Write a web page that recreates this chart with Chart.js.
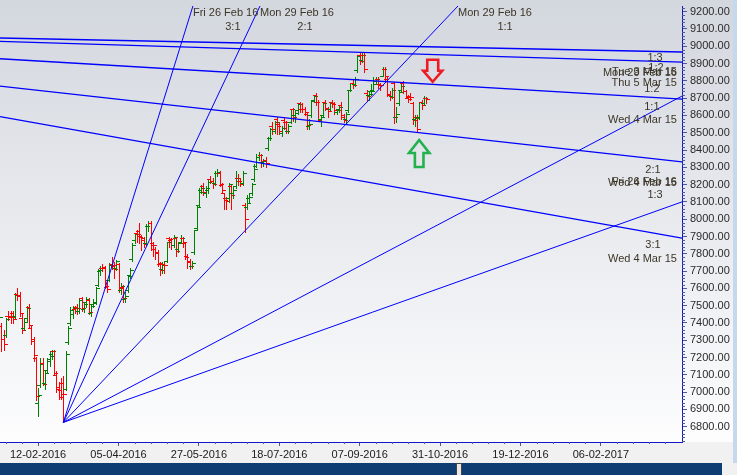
<!DOCTYPE html>
<html>
<head>
<meta charset="utf-8">
<script src="https://cdn.jsdelivr.net/npm/chart.js@4.4.1/dist/chart.umd.min.js"></script>
<style>
  html, body { margin: 0; padding: 0; background: #fff; }
</style>
</head>
<body>
<canvas id="chart" width="737" height="475"></canvas>
<script>
// Nifty daily bars, first bar is 19-01-2016, bar index 0 = 12-02-2016
const firstBar = -17;
const barOpen = [
  7400,7380,7310,7330,7440,7440,7460,7440,7570,7560,7430,7370,7430,7490,7370,7310,7200,
  6940,7040,7170,7050,7130,7180,7220,7240,7100,7030,7010,7050,
  7020,7290,7400,7450,7480,7495,7470,7545,7480,7520,7535,7460,7510,7520,7620,7700,7720,
  7725,7610,7650,7740,7730,7720,7740,7590,7610,7540,7590,7680,7770,7880,7920,7930,7905,
  7890,7860,7960,7980,7860,7830,7810,7740,7710,7740,7760,7890,7880,7850,7890,7830,7870,
  7890,7860,7790,7760,7730,7810,7950,8080,8170,8190,8150,8170,8230,8220,8210,8270,8270,
  8200,8150,8120,8120,8190,8150,8190,8240,8220,8210,8080,8070,8120,8150,8230,8310,8360,
  8370,8330,8340,8410,8470,8540,8510,8580,8550,8500,8575,8560,8510,8560,8640,8600,8630,
  8670,8640,8640,8610,8540,8600,8690,8720,8680,8580,8600,8680,8640,8640,8680,8670,8620,
  8640,8660,8600,8580,8630,8750,8790,8780,8860,8950,8920,8950,8730,8720,8740,8750,8800,
  8810,8780,8830,8870,8810,8720,8710,8790,8590,8670,8750,8790,8740,8700,8710,8670,8580,
  8590,8590,8680,8670,8700
];
const barHigh = [
  7460,7400,7360,7430,7470,7470,7470,7575,7600,7580,7450,7430,7500,7510,7380,7320,7205,
  7025,7195,7200,7130,7200,7240,7245,7245,7120,7060,7080,7095,
  7235,7380,7490,7500,7500,7510,7540,7550,7520,7550,7545,7510,7540,7610,7710,7730,7740,
  7730,7640,7745,7780,7750,7765,7745,7630,7620,7580,7680,7720,7860,7920,7940,7980,7910,
  7900,7970,7990,7990,7870,7840,7820,7750,7750,7750,7870,7900,7890,7910,7900,7870,7910,
  7900,7870,7800,7770,7760,7940,8080,8180,8200,8210,8190,8230,8250,8240,8280,8290,8280,
  8210,8150,8130,8210,8200,8190,8280,8260,8240,8280,8095,8140,8150,8210,8320,8380,8390,
  8380,8350,8360,8475,8530,8560,8570,8590,8560,8540,8590,8570,8550,8640,8645,8625,8670,
  8675,8670,8650,8615,8580,8690,8720,8730,8690,8600,8680,8690,8650,8680,8690,8680,8640,
  8660,8680,8610,8620,8750,8790,8810,8825,8950,8960,8968,8960,8750,8740,8780,8825,8820,
  8820,8790,8880,8880,8820,8740,8760,8795,8650,8750,8790,8800,8750,8720,8730,8680,8600,
  8600,8680,8690,8710,8705
];
const barLow = [
  7360,7240,7245,7320,7420,7400,7400,7430,7530,7440,7340,7360,7410,7370,7280,7180,6955,
  6860,7030,7040,7020,7110,7150,7190,7100,7000,6960,6960,6825,
  7010,7280,7390,7430,7455,7450,7460,7470,7465,7495,7450,7440,7490,7510,7615,7680,7700,
  7600,7580,7640,7710,7660,7705,7580,7570,7520,7520,7580,7660,7760,7860,7870,7860,7820,
  7840,7850,7930,7820,7790,7770,7730,7680,7690,7690,7750,7840,7830,7840,7790,7810,7860,
  7840,7770,7720,7710,7720,7800,7940,8070,8150,8140,8130,8150,8210,8180,8200,8250,8190,
  8160,8060,8060,8100,8060,8120,8180,8200,8190,8200,7927,8060,8100,8140,8220,8300,8340,
  8300,8310,8300,8400,8460,8490,8500,8490,8490,8480,8520,8500,8500,8555,8570,8560,8610,
  8620,8620,8600,8520,8520,8590,8680,8660,8570,8540,8590,8630,8590,8630,8650,8610,8610,
  8620,8580,8560,8550,8620,8740,8760,8770,8850,8900,8910,8850,8690,8690,8720,8740,8780,
  8760,8750,8830,8800,8710,8690,8700,8555,8560,8660,8740,8730,8700,8680,8690,8550,8540,
  8506,8580,8640,8660,8670
];
const barClose = [
  7435,7309,7277,7422,7436,7437,7425,7564,7556,7455,7362,7405,7489,7388,7298,7216,6976,
  6981,7163,7049,7109,7192,7211,7235,7110,7018,6971,6987,6987,
  7222,7368,7475,7485,7470,7485,7531,7487,7511,7538,7461,7498,7513,7604,7704,7715,7716,
  7615,7598,7735,7738,7713,7758,7603,7615,7546,7555,7671,7709,7850,7914,7912,7899,7880,
  7855,7962,7979,7848,7850,7806,7747,7706,7736,7733,7866,7887,7848,7900,7815,7860,7890,
  7871,7783,7750,7731,7748,7935,8069,8157,8178,8160,8180,8218,8220,8201,8266,8273,8203,
  8170,8110,8108,8206,8141,8170,8238,8219,8203,8270,8000,8094,8127,8204,8288,8328,8371,
  8335,8337,8323,8467,8521,8519,8565,8541,8508,8528,8565,8510,8541,8635,8590,8615,8666,
  8638,8636,8622,8544,8551,8683,8711,8678,8575,8592,8672,8642,8624,8673,8667,8629,8632,
  8650,8592,8573,8607,8745,8786,8775,8809,8943,8917,8952,8866,8715,8726,8742,8780,8808,
  8775,8777,8867,8831,8723,8706,8745,8591,8611,8738,8769,8743,8709,8697,8708,8573,8583,
  8520,8677,8659,8699,8693
];

// date labels on the time axis, one every 35 bars
const xTickLabels = ['12-02-2016','05-04-2016','27-05-2016','18-07-2016','07-09-2016','31-10-2016','19-12-2016','06-02-2017'];
const xTickStep = 35;
const yTickValues = [6800,6900,7000,7100,7200,7300,7400,7500,7600,7700,7800,7900,8000,8100,8200,8300,8400,8500,8600,8700,8800,8900,9000,9100,9200];

// gann fan up from the 29-02-2016 low
const upFanOriginX = 11;
const upFanOriginY = 6825;
const upFanEndX = [67.4, 96.6, 182.8, 280.3, 280.3];
const upFanEndY = [9233, 9233, 9233, 8712, 8100];
// gann fans down from the march 2015 tops
const downFanStartY = [9048, 9028, 8928, 8770, 8593];
const downFanEndY = [8967, 8909, 8695, 8331, 7891];

// text notes next to the fan lines (bar index, price)
const noteText = ['Fri 26 Feb 16','3:1','Mon 29 Feb 16','2:1','Mon 29 Feb 16','1:1',
  '1:3','1:2','Tue 3 Mar 15','Mon 29 Feb 16','Thu 5 Mar 15','1:2','1:1','Wed 4 Mar 15',
  '2:1','Fri 26 Feb 16','Wed 4 Mar 15','1:3','3:1','Wed 4 Mar 15'];
const noteX = [67.4, 84.8, 96.6, 116.2, 182.8, 203.3,
  268.6, 269.0, 278.1, 278.1, 278.1, 267.2, 267.2, 278.1,
  267.7, 278.1, 278.1, 268.6, 267.7, 278.1];
const noteY = [9191, 9113, 9191, 9113, 9191, 9113,
  8930, 8873, 8853, 8844, 8786, 8751, 8651, 8574,
  8285, 8217, 8208, 8140, 7851, 7768];
const noteAlign = ['left','center','left','center','left','center',
  'center','center','right','right','right','center','center','right',
  'center','right','right','center','center','right'];

const xMin = -16.59, xMax = 280.32;
const yMin = 6711.6, yMax = 9233;

const upColor = '#008000';
const downColor = '#ff0000';
const fanColor = '#0000ff';
const noteColor = '#3c3628';

Chart.defaults.font.family = '"Liberation Sans", Arial, sans-serif';
Chart.defaults.font.size = 11;

const datasets = [];
upFanEndX.forEach((ex, i) => {
  datasets.push({
    data: [{ x: upFanOriginX, y: upFanOriginY }, { x: ex, y: upFanEndY[i] }],
    showLine: true, borderColor: fanColor, borderWidth: 1, pointRadius: 0
  });
});
downFanStartY.forEach((sy, i) => {
  datasets.push({
    data: [{ x: xMin, y: sy }, { x: xMax, y: downFanEndY[i] }],
    showLine: true, borderColor: fanColor, borderWidth: 1.3, pointRadius: 0
  });
});

// window background, scroll bar strips
const backdrop = {
  id: 'backdrop',
  beforeDraw(chart) {
    const { ctx, width, height, chartArea: a } = chart;
    ctx.save();
    const g = ctx.createLinearGradient(0, 0, 0, a.bottom);
    g.addColorStop(0, '#d3d7de');
    g.addColorStop(1, '#fdfdfe');
    ctx.fillStyle = g;
    ctx.fillRect(0, 0, width, a.bottom);
    ctx.fillStyle = '#f1f1f1';
    ctx.fillRect(0, a.bottom, width, height - a.bottom);
    ctx.fillStyle = '#c4d8ee';
    ctx.fillRect(733, 0, width - 733, 463);
    ctx.fillStyle = '#0d3d72';
    ctx.fillRect(0, 463, 722, height - 463);
    ctx.fillStyle = '#e8e8e8';
    ctx.fillRect(456, 463, 6, height - 463);
    ctx.strokeStyle = '#444';
    ctx.strokeRect(456.5, 463.5, 5, height - 463);
    ctx.restore();
  }
};

// open-high-low-close bars
const ohlc = {
  id: 'ohlc',
  beforeDatasetsDraw(chart) {
    const { ctx, chartArea: a, scales: { x, y } } = chart;
    ctx.save();
    ctx.beginPath();
    ctx.rect(a.left, a.top, a.right - a.left, a.bottom - a.top);
    ctx.clip();
    barClose.forEach((c, i) => {
      const o = barOpen[i];
      const px = Math.round(x.getPixelForValue(firstBar + i));
      const yh = Math.round(y.getPixelForValue(barHigh[i]));
      const yl = Math.round(y.getPixelForValue(barLow[i]));
      const yo = Math.round(y.getPixelForValue(o));
      const yc = Math.round(y.getPixelForValue(c));
      ctx.fillStyle = c >= o ? upColor : downColor;
      ctx.fillRect(px, yh, 1, yl - yh + 1);
      ctx.fillRect(px - 3, yo, 3, 1);
      ctx.fillRect(px + 1, yc, 3, 1);
    });
    ctx.restore();
  }
};

// fan labels, arrows and minor axis ticks
const notes = {
  id: 'notes',
  afterDatasetsDraw(chart) {
    const { ctx, chartArea: a, scales: { x, y } } = chart;
    ctx.save();
    ctx.font = '11px "Liberation Sans", Arial, sans-serif';
    ctx.fillStyle = noteColor;
    ctx.textBaseline = 'middle';
    noteText.forEach((t, i) => {
      ctx.textAlign = noteAlign[i];
      ctx.fillText(t, x.getPixelForValue(noteX[i]), y.getPixelForValue(noteY[i]));
    });

    drawArrow(ctx, x.getPixelForValue(171.8), y.getPixelForValue(8795), 1, 5.5, 9.5, 11, 22, '#ed1c24');
    drawArrow(ctx, x.getPixelForValue(165.9), y.getPixelForValue(8458), -1, 4.3, 10.2, 13, 27, '#22b14c');

    // minor ticks
    ctx.strokeStyle = '#4a5a9a';
    ctx.lineWidth = 1;
    ctx.beginPath();
    for (let v = 6720; v <= yMax; v += 20) {
      if (v % 100 === 0) continue;
      const py = Math.round(y.getPixelForValue(v)) + 0.5;
      ctx.moveTo(a.right, py);
      ctx.lineTo(a.right + 3, py);
    }
    for (let v = -14; v <= xMax; v += 7) {
      if (v % xTickStep === 0) continue;
      const px = Math.round(x.getPixelForValue(v)) + 0.5;
      ctx.moveTo(px, a.bottom);
      ctx.lineTo(px, a.bottom + 2);
    }
    ctx.stroke();
    ctx.restore();
  }
};

// hollow block arrow, dir 1 points down, -1 points up
function drawArrow(ctx, tx, ty, dir, shaftHalf, headHalf, headLen, totalLen, color) {
  ctx.save();
  ctx.strokeStyle = color;
  ctx.lineWidth = 2.6;
  ctx.lineJoin = 'miter';
  ctx.beginPath();
  ctx.moveTo(tx, ty);
  ctx.lineTo(tx + headHalf, ty - dir * headLen);
  ctx.lineTo(tx + shaftHalf, ty - dir * headLen);
  ctx.lineTo(tx + shaftHalf, ty - dir * totalLen);
  ctx.lineTo(tx - shaftHalf, ty - dir * totalLen);
  ctx.lineTo(tx - shaftHalf, ty - dir * headLen);
  ctx.lineTo(tx - headHalf, ty - dir * headLen);
  ctx.closePath();
  ctx.stroke();
  ctx.restore();
}

new Chart(document.getElementById('chart'), {
  type: 'scatter',
  data: { datasets },
  options: {
    responsive: false,
    animation: false,
    layout: { padding: { top: 6, left: 0, right: 0, bottom: 0 } },
    plugins: { legend: { display: false }, tooltip: { enabled: false } },
    scales: {
      x: {
        type: 'linear', position: 'bottom', min: xMin, max: xMax,
        afterFit(scale) { scale.height = 33; scale.paddingLeft = 0; scale.paddingRight = 0; },
        afterBuildTicks(scale) { scale.ticks = xTickLabels.map((_, k) => ({ value: k * xTickStep })); },
        ticks: {
          autoSkip: false, maxRotation: 0, padding: 2, color: '#202020',
          callback: (v) => xTickLabels[Math.round(v / xTickStep)]
        },
        grid: { drawOnChartArea: false, drawTicks: true, tickLength: 4, color: '#4a5a9a' },
        border: { display: true, color: '#1414c8', width: 1 }
      },
      y: {
        type: 'linear', position: 'right', min: yMin, max: yMax,
        afterFit(scale) { scale.width = 55; scale.paddingTop = 0; scale.paddingBottom = 0; },
        afterBuildTicks(scale) { scale.ticks = yTickValues.map(v => ({ value: v })); },
        ticks: { padding: 3, color: '#2a2a2a', callback: (v) => Number(v).toFixed(2) },
        grid: { drawOnChartArea: false, drawTicks: true, tickLength: 5, color: '#4a5a9a' },
        border: { display: true, color: '#1414c8', width: 1 }
      }
    }
  },
  plugins: [backdrop, ohlc, notes]
});
</script>
</body>
</html>
